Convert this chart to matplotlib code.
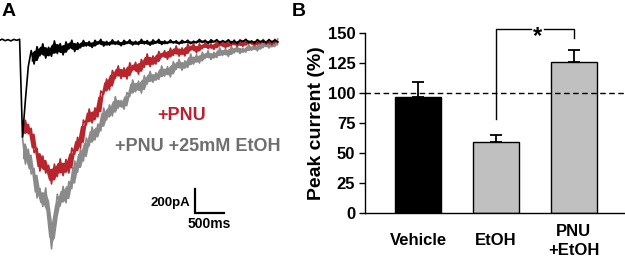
import numpy as np
import matplotlib
matplotlib.use("Agg")
import matplotlib.pyplot as plt

plt.rcParams['font.family'] = ['Liberation Sans', 'DejaVu Sans']
plt.rcParams['font.weight'] = 'bold'
plt.rcParams['axes.labelweight'] = 'bold'

# ---- panel A: example current traces (pA), sampled every 50 ms ----
t_black = np.arange(-400, 4401, 50)
t_drug = np.arange(0, 4401, 50)

i_vehicle = [-4, 7, -6, 3, -8, 5, -3, 6,
             -808, -500, -221, -88, -200, -56, -131, -32, -151, -61,
             -136, -8, -113, -30, -124, -16, -75, -2, -96, -23,
             -65, -4, -50, -13, -62, -3, -35, 5, -51, -12,
             -43, 1, -37, -8, -48, -3, -30, 1, -42, -11,
             -39, 5, -33, -5, -44, 1, -27, 5, -38, -8,
             -29, 0, -26, -7, -34, -3, -22, -2, -31, -10,
             -24, 5, -21, -2, -29, 2, -17, 3, -26, -5,
             -19, 2, -25, -6, -31, 0, -14, 6, -22, -9,
             -27, 3, -18, -4, -24, 4, -20, -1, -15]

i_pnu = [-805, -669, -782, -736, -939, -901, -1092, -967, -1109, -1044,
         -1199, -1034, -1137, -991, -1130, -995, -1108, -900, -951, -811,
         -899, -667, -708, -575, -691, -566, -641, -425, -450, -325,
         -416, -254, -319, -216, -322, -232, -325, -190, -254, -186,
         -285, -162, -227, -116, -222, -133, -200, -96, -143, -90,
         -161, -68, -128, -50, -135, -66, -133, -34, -85, -31,
         -107, -32, -71, -21, -73, -33, -79, -12, -49, -14,
         -67, -7, -46, 0, -52, -16, -54, -2, -30, -7,
         -48, -1, -31, 4, -35, -4, -42, 6, -22]

i_pnu_etoh = [-815, -1033, -910, -1116, -1070, -1315, -1236, -1388, -1233, -1460,
              -1740, -1516, -1285, -1383, -1220, -1356, -1178, -1238, -1008, -1101,
              -906, -1008, -816, -883, -725, -833, -700, -757, -567, -666,
              -541, -633, -473, -567, -504, -576, -438, -470, -333, -431,
              -343, -442, -298, -367, -262, -352, -274, -329, -217, -301,
              -223, -308, -181, -245, -162, -252, -174, -229, -117, -201,
              -123, -192, -103, -154, -91, -163, -103, -146, -66, -129,
              -75, -138, -53, -108, -49, -113, -69, -101, -38, -86,
              -42, -91, -20, -63, -16, -67, -23, -55, 8]

# ---- panel B: peak current relative to baseline ----
groups = ["Vehicle", "EtOH", "PNU\n+EtOH"]
peak = [97, 59, 126]
sem = [12, 6, 10]
bar_colors = ["black", "#c0c0c0", "#c0c0c0"]

red = "#b8252c"
grey = "#8a8a8a"


def noisy_trace(ax, t, v, color, start=0, core=0.6):
    # raw trace plus a solid core around the local middle, so it reads as a noisy band
    v = np.asarray(v, float)
    ax.plot(t, v, color=color, lw=1.2)
    t, v = t[start:], v[start:]
    pad = np.r_[v[0], v, v[-1]]
    win = np.vstack([pad[:-2], pad[1:-1], pad[2:]])
    lo, hi = win.min(0), win.max(0)
    mid, half = (lo + hi) / 2, (hi - lo) / 2
    ax.fill_between(t, mid - core * half, mid + core * half, color=color, lw=0)


fig = plt.figure(figsize=(6.25, 2.6), dpi=100)

# panel A
axA = fig.add_axes([0, 0, 290 / 625, 1])
noisy_trace(axA, t_drug, i_pnu_etoh, grey)
noisy_trace(axA, t_drug, i_pnu, red)
noisy_trace(axA, t_black, i_vehicle, "black", start=11)
axA.set_xlim(-388, 4612)
axA.set_ylim(-1833, 333)
axA.axis("off")

# scale bar 500 ms / 200 pA
axA.plot([2975, 2975, 3475], [-1241, -1441, -1441], color="black", lw=1.6,
         solid_joinstyle="miter")
axA.text(2890, -1355, "200pA", ha="right", va="center", fontsize=9.5)
axA.text(3225, -1530, "500ms", ha="center", va="center", fontsize=10)

axA.text(2320, -633, "+PNU", color="#be1e2d", ha="left", va="center", fontsize=13)
axA.text(1595, -891, "+PNU +25mM EtOH", color="#6e6e6e", ha="left", va="center",
         fontsize=13)

fig.text(2 / 625, 1 - 3 / 260, "A", ha="left", va="top", fontsize=14)
fig.text(292 / 625, 1 - 3 / 260, "B", ha="left", va="top", fontsize=14)

# panel B
axB = fig.add_axes([365 / 625, 47 / 260, 260 / 625, 180 / 260])
x = np.arange(len(groups))
axB.bar(x, peak, width=0.6, color=bar_colors, edgecolor="black", linewidth=1,
        yerr=[np.zeros(len(sem)), sem], capsize=4,
        error_kw=dict(elinewidth=1.3, capthick=1.3, ecolor="black"))
axB.axhline(100, color="black", lw=1, ls=(0, (4, 2.5)))

axB.set_xlim(-0.68, 2.655)
axB.set_ylim(0, 150)
axB.set_yticks(range(0, 151, 25))
axB.set_xticks(x)
axB.set_xticklabels(groups)
for sp in ["top", "right"]:
    axB.spines[sp].set_visible(False)
axB.spines["left"].set_linewidth(1)
axB.spines["bottom"].set_linewidth(1)
axB.tick_params(axis="y", direction="out", length=4, width=1, labelsize=12, pad=3)
axB.tick_params(axis="x", length=0, pad=20, labelsize=12)
for lbl in axB.get_xticklabels():
    lbl.set_verticalalignment("center")
    lbl.set_linespacing(1.35)
axB.set_ylabel("Peak current (%)", fontsize=14, labelpad=2)

# significance bracket
axB.plot([1, 1, 1.45], [78, 153.3, 153.3], color="black", lw=1, clip_on=False)
axB.plot([1.62, 2, 2], [153.3, 153.3, 146], color="black", lw=1, clip_on=False)
axB.text(1.535, 142, "*", ha="center", va="baseline", fontsize=17)

fig.savefig("out.png", dpi=100)
